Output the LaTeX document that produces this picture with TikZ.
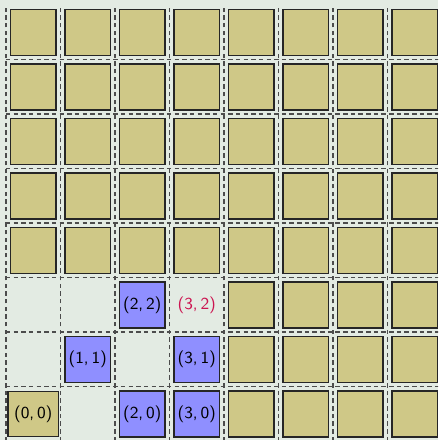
\documentclass[tikz,border=0pt]{standalone}
\usetikzlibrary{backgrounds}
\definecolor{bgc}{RGB}{227,235,227}
\definecolor{olivec}{RGB}{207,200,135}
\definecolor{bluec}{RGB}{143,143,255}
\definecolor{redc}{RGB}{204,20,80}
\tikzset{
  cell/.style={draw=black!85, line width=0.75pt, minimum size=0.84cm, inner sep=0pt,
    font=\sffamily\fontsize{8.8}{10}\selectfont},
  olivecell/.style={cell, fill=olivec},
  bluecell/.style={cell, fill=bluec},
  gridline/.style={dash pattern=on 2.3pt off 1.7pt, draw=black!70, line width=0.8pt},
  redlabel/.style={text=redc, inner sep=0pt, font=\sffamily\fontsize{8.8}{10}\selectfont}
}
\begin{document}
\begin{tikzpicture}[x=1cm,y=1cm]
\useasboundingbox (-0.61,-0.478) rectangle (7.427,7.595);
\fill[bgc] (-0.61,-0.478) rectangle (7.427,7.595);
\begin{scope}
\clip (-0.61,-0.478) rectangle (7.427,7.595);
% grid
\foreach \x in {-0.5,0.5,...,7.5} \draw[gridline] (\x,-0.5) -- (\x,7.5);
\foreach \y in {-0.5,0.5,...,6.5} \draw[gridline] (-0.5,\y) -- (7.5,\y);
% top five rows
\foreach \j in {3,...,7}
  \foreach \i in {0,...,7}
    \node[olivecell] (c\i\j) at (\i,\j) {};
% right block rows 0..2
\foreach \j in {0,1,2}
  \foreach \i in {4,...,7}
    \node[olivecell] (c\i\j) at (\i,\j) {};
% labelled cells
\node[olivecell, minimum width=0.93cm, minimum height=0.83cm] (c00) at (0,0) {(0,\,0)};
\node[bluecell] (c22) at (2,2) {(2,\,2)};
\node[bluecell] (c11) at (1,1) {(1,\,1)};
\node[bluecell] (c31) at (3,1) {(3,\,1)};
\node[bluecell] (c20) at (2,0) {(2,\,0)};
\node[bluecell] (c30) at (3,0) {(3,\,0)};
\node[redlabel] (c32) at (3,2) {(3,\,2)};
\end{scope}
\end{tikzpicture}
\end{document}
